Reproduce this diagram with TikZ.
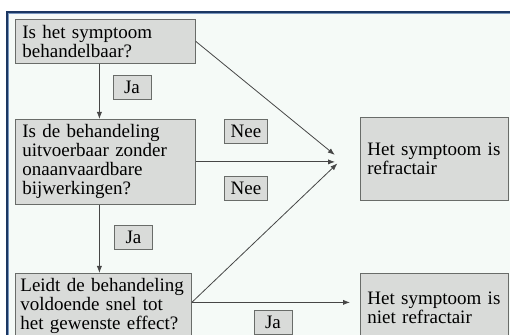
\documentclass[tikz,border=0pt]{standalone}
\usepackage{fontspec}
\setmainfont{Liberation Serif}
\usepackage{tikz}
\usetikzlibrary{arrows.meta, positioning, calc}
\definecolor{framenavy}{RGB}{27,55,98}
\definecolor{framelight}{RGB}{120,150,190}
\definecolor{paperbg}{RGB}{245,250,247}
\definecolor{boxgray}{RGB}{217,219,217}
\definecolor{boxline}{RGB}{105,108,105}
\definecolor{linegray}{RGB}{70,70,70}
\newcommand{\boxfont}{\fontsize{9.5}{9.5}\selectfont\hyphenpenalty=10000\relax}
\tikzset{
  question/.style={
    rectangle, anchor=north west, draw=boxline, fill=boxgray,
    inner xsep=3.5pt, inner ysep=2pt, text width=83pt, align=left,
    font=\boxfont, text=black
  },
  outcome/.style={question, text width=67pt},
  answer/.style={
    rectangle, draw=boxline, fill=boxgray, minimum width=19pt,
    minimum height=12pt, inner xsep=3pt, inner ysep=1pt,
    font=\boxfont
  },
  arrow/.style={-{Latex[length=3.5pt,width=2.6pt]}, line width=0.4pt, color=linegray}
}

\begin{document}
\begin{tikzpicture}[x=0.5pt, y=-0.5pt]
  \useasboundingbox (0,0) rectangle (510,335);
  \clip (0,0) rectangle (510,335);
  % frame
  \fill[white] (0,0) rectangle (510,335);
  \fill[framenavy] (6,11) rectangle (520,345);
  \fill[framelight] (8,13) rectangle (520,345);
  \fill[paperbg] (9,14.5) rectangle (520,345);

  \node[question, minimum height=22pt] (q1) at (15,19)
    {Is het symptoom\\ behandelbaar?};
  \node[question, minimum height=42.5pt] (q2) at (15,119)
    {Is de behandeling\\ uitvoerbaar zonder\\ onaanvaardbare\\ bijwerkingen?};
  \node[question, inner xsep=2.5pt, minimum height=33pt] (q3) at (15,273)
    {Leidt de behandeling\\ voldoende snel tot\\ het gewenste effect?};
  \node[outcome, minimum height=41.5pt] (refr) at (360,117)
    {Het symptoom is\\ refractair};
  \node[outcome, minimum height=34pt] (nrefr) at (360,273)
    {Het symptoom is\\ niet refractair};

  \node[answer] (ja1) at (132,87) {Ja};
  \node[answer] (nee1) at (246,131.5) {Nee};
  \node[answer] (nee2) at (246,188) {Nee};
  \node[answer] (ja2) at (133.5,237) {Ja};
  \node[answer] (ja3) at (273,322.5) {Ja};

  \coordinate (hub) at (341,160);
  \draw[arrow] ([xshift=-3pt]q1.south) -- ([xshift=-3pt]q1.south |- q2.north);
  \draw[arrow] ([xshift=-3pt]q2.south) -- ([xshift=-3pt]q2.south |- q3.north);
  \draw[arrow, shorten >=4pt] (q1.east) -- (hub);
  \draw[arrow, shorten >=3pt] (q2.east) -- (q2.east -| hub);
  \draw[arrow, shorten >=2.5pt] ([yshift=2pt]q3.east) -- (hub);
  \draw[arrow, shorten >=5pt] ([yshift=2pt]q3.east) -- ([yshift=2pt]q3.east -| nrefr.west);
\end{tikzpicture}
\end{document}
